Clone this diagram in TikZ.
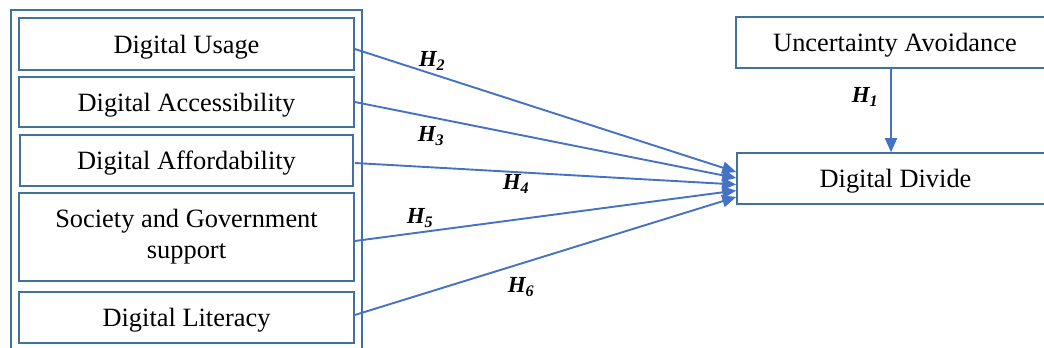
\documentclass[tikz,border=0pt]{standalone}
\usepackage{fontspec}
\setmainfont{Liberation Serif}
\usetikzlibrary{arrows.meta}
\definecolor{boxblue}{HTML}{41719C}
\definecolor{arrblue}{HTML}{4472C4}
\begin{document}
\begin{tikzpicture}[x=1pt,y=-1pt,
  box/.style={draw=boxblue,line width=1.6pt,rectangle,inner sep=0pt,align=center,
    font=\fontsize{26.4}{30}\selectfont},
  one/.style={text height=18pt,text depth=0pt},
  arr/.style={draw=arrblue,line width=1.9pt,-{Triangle[length=14pt,width=12pt]}},
  hlab/.style={font=\fontsize{23}{26}\selectfont\bfseries\itshape,inner sep=0pt}]
\useasboundingbox (0,0) rectangle (1044,348);
\clip (0,0) rectangle (1044,348);
\draw[boxblue,line width=1.6pt] (11,10) rectangle (362,370);
\node[box,one,minimum width=335pt,minimum height=52pt] (du) at (186.5,44) {Digital Usage};
\node[box,one,minimum width=335pt,minimum height=50pt] (dacc) at (186.5,102) {Digital Accessibility};
\node[box,one,minimum width=333pt,minimum height=51pt] (daff) at (186.5,160.5) {Digital Affordability};
\node[box,minimum width=335pt,minimum height=88pt,font=\fontsize{26.4}{31}\selectfont] (sgs) at (186.5,237) {Society and Government\\support};
\node[box,one,minimum width=335pt,minimum height=51pt] (dl) at (186.5,317.5) {Digital Literacy};
\node[box,one,minimum width=318pt,minimum height=51pt] (ua) at (895,42.5) {Uncertainty Avoidance};
\node[box,one,minimum width=317pt,minimum height=51pt] (dd) at (895.5,178.5) {Digital Divide};
\draw[arr] ([yshift=-5pt]du.east) -- ([yshift=6.5pt]dd.west);
\draw[arr] (dacc.east) -- ([yshift=0.5pt]dd.west);
\draw[arr] ([xshift=1pt,yshift=-2.5pt]daff.east) -- ([yshift=-6pt]dd.west);
\draw[arr] ([yshift=-4pt]sgs.east) -- ([yshift=-12pt]dd.west);
\draw[arr] ([yshift=2.5pt]dl.east) -- ([yshift=-18.5pt]dd.west);
\draw[arr] (ua.south -| 891,0) -- (dd.north -| 891,0);
\node[hlab] (h1) at (865,97) {H\textsubscript{1}};
\node[hlab] (h2) at (432,61) {H\textsubscript{2}};
\node[hlab] (h3) at (431,136) {H\textsubscript{3}};
\node[hlab] (h4) at (516,184) {H\textsubscript{4}};
\node[hlab] (h5) at (420,218) {H\textsubscript{5}};
\node[hlab] (h6) at (521,287) {H\textsubscript{6}};
\end{tikzpicture}
\end{document}
